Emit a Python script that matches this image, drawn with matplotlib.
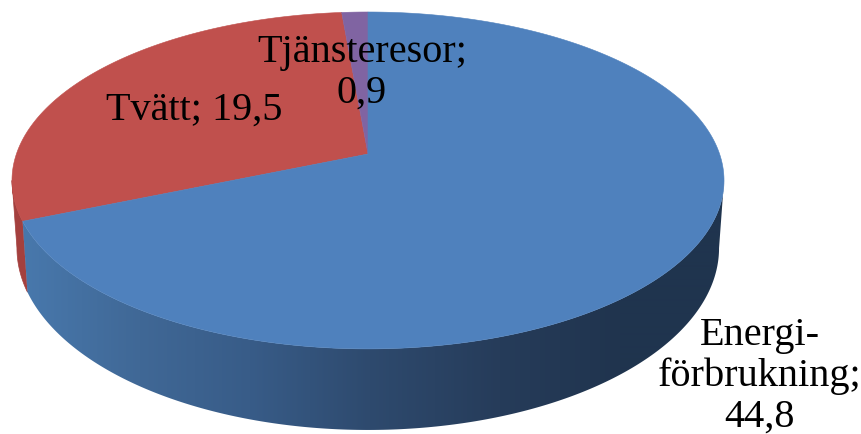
#!/usr/bin/env python3

import numpy as np
import matplotlib
matplotlib.use('Agg')
import matplotlib.pyplot as plt
from matplotlib.patches import Polygon

# Data
categories = ['Energi-\nförbrukning', 'Tvätt', 'Tjänsteresor']
values = [44.8, 19.5, 0.9]
separators = ['\n', ' ', '\n']

colors = ['#4f81bd', '#c0504d', '#8064a2']
side_red = '#a4403e'
# shading of the blue side, left to right
shade_x = [25, 140, 250, 370, 500, 620, 725]
shade_rgb = np.array([[72, 120, 172], [64, 104, 150], [56, 92, 136], [46, 74, 110],
                      [38, 60, 90], [32, 52, 78], [31, 52, 78]]) / 255

# perspective of the tilted disc
p = 0.157
cx = 368
# angle of the rim's widest point on the right
t_wide = np.pi / 2 + np.arcsin(p)


def rim(theta, y0, a, b):
    u = np.sin(theta)
    v = -np.cos(theta)
    d = 1 - p * v
    return cx + b * u / d, y0 + a * v / d


def top_rim(theta):
    return rim(theta, 155, 164.3, 351.6)


def bottom_rim(theta):
    return rim(theta, 220.4, 177.5, 346.7)


def side_poly(t):
    xt, yt = top_rim(t)
    xb, yb = bottom_rim(t)
    return np.column_stack([np.r_[xt, xb[::-1]], np.r_[yt, yb[::-1]]])


fig = plt.figure(figsize=(8.62, 4.35), dpi=100)
ax = fig.add_axes([0, 0, 1, 1])

fracs = np.array(values) / sum(values) * 2 * np.pi
edges = np.concatenate([[0], np.cumsum(fracs)])

# side of the blue slice, a horizontal gradient clipped to the side shape
grid = np.arange(862) + 0.5
shade = np.column_stack([np.interp(grid, shade_x, shade_rgb[:, k]) for k in range(3)])[None, :, :]
im = ax.imshow(shade, extent=(0, 862, 435, 0), aspect='auto', zorder=2, interpolation='bilinear')
blue_side = Polygon(side_poly(np.linspace(t_wide, edges[1], 240)), closed=True,
                    transform=ax.transData, fc='none', ec='none')
ax.add_patch(blue_side)
im.set_clip_path(blue_side)

# side of the red slice, visible up to the widest point on the left
pts = side_poly(np.linspace(edges[1], 2 * np.pi - t_wide, 100))
ax.add_patch(Polygon(pts, closed=True, fc=side_red, ec=side_red, lw=0.5, zorder=1))

# top of the pie
for i in [1, 2, 0]:
    t = np.linspace(edges[i], edges[i + 1], 300)
    x, y = top_rim(t)
    pts = np.column_stack([np.r_[cx, x], np.r_[155, y]])
    ax.add_patch(Polygon(pts, closed=True, fc=colors[i], ec=colors[i], lw=0.4, zorder=3))

# Labels
label_pos = [(760, 376), (194, 110), (362, 73)]
for name, val, sep, pos in zip(categories, values, separators, label_pos):
    label = f'{name};{sep}{val}'.replace('.', ',')
    ax.text(pos[0], pos[1], label, ha='center', va='center', fontsize=29,
            family='Liberation Serif', color='black', linespacing=1.12, zorder=5)

ax.set_xlim(0, 862)
ax.set_ylim(435, 0)
ax.axis('off')

fig.savefig('out.png', dpi=100)
